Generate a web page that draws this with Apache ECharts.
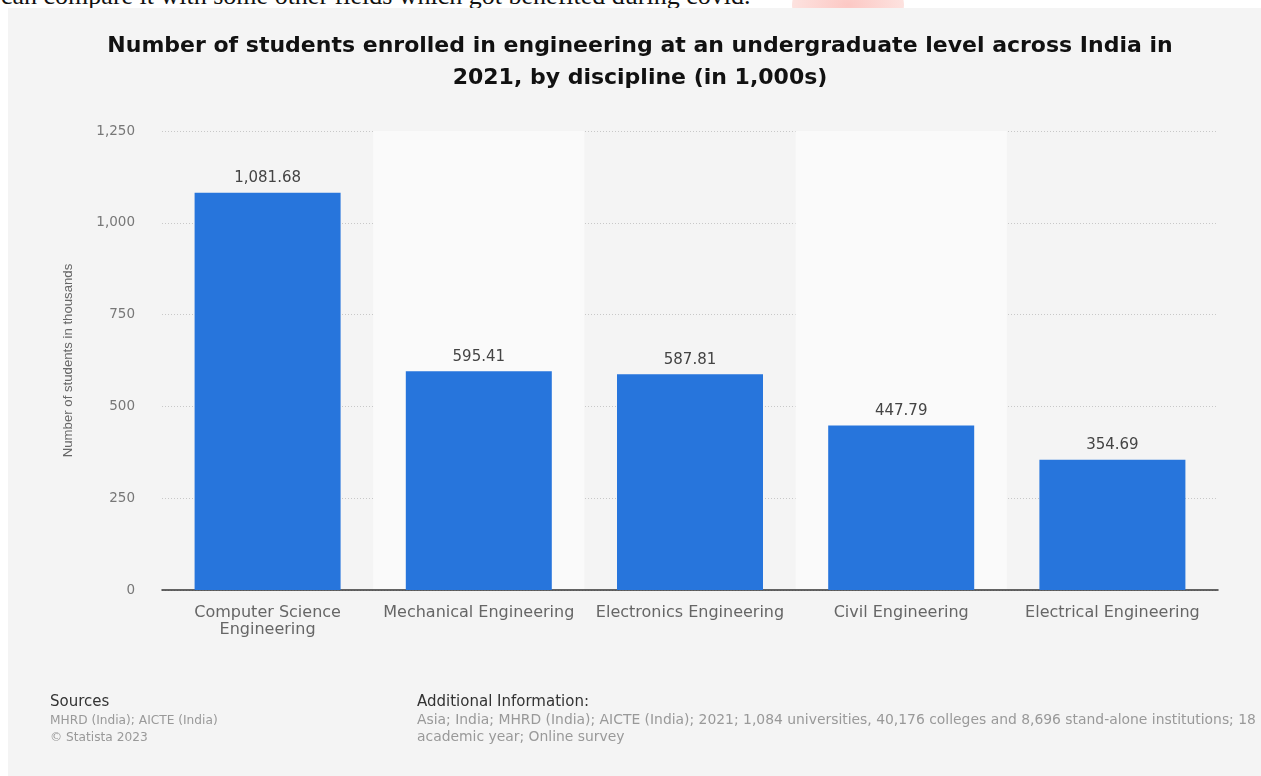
<!DOCTYPE html>
<html>
<head>
<meta charset="utf-8">
<script src="https://cdn.jsdelivr.net/npm/echarts@6/dist/echarts.min.js"></script>
<style>
  html, body { margin: 0; padding: 0; background: #ffffff; width: 1261px; height: 776px; overflow: hidden; position: relative; }
  #bodytext { position: absolute; left: 1px; top: -15px; font-family: "Liberation Serif", "DejaVu Serif", serif; font-size: 26px; line-height: 22px; color: #111; white-space: nowrap; z-index: 1; }
  #blob { position: absolute; left: 792px; top: -30px; width: 112px; height: 70px; border-radius: 50%; background: radial-gradient(ellipse at center, #fcc8c4 0%, #fde2df 70%, #ffffff 100%); z-index: 0; }
  #chart { position: absolute; left: 8px; top: 8px; width: 1253px; height: 768px; background: #f4f4f4; z-index: 2; }
</style>
</head>
<body>
<div id="bodytext">can compare it with some other fields which got benefited during covid.</div>
<div id="blob"></div>
<div id="chart"></div>
<script>
const categories = [
  "Computer Science\nEngineering",
  "Mechanical Engineering",
  "Electronics Engineering",
  "Civil Engineering",
  "Electrical Engineering"
];
const enrolledThousands = [1081.68, 595.41, 587.81, 447.79, 354.69];
const yTicks = [0, 250, 500, 750, 1000, 1250];

const titleText = "Number of students enrolled in engineering at an undergraduate level across India in\n2021, by discipline (in 1,000s)";
const yAxisName = "Number of students in thousands";
const sourcesHead = "Sources";
const sourcesLines = "MHRD (India); AICTE (India)\n\u00A9 Statista 2023";
const addHead = "Additional Information:";
const addLines = "Asia; India; MHRD (India); AICTE (India); 2021; 1,084 universities, 40,176 colleges and 8,696 stand-alone institutions; 18\nacademic year; Online survey";

function fmt(v, dec) {
  return Number(v).toLocaleString('en-US', { minimumFractionDigits: dec, maximumFractionDigits: dec });
}

const chart = echarts.init(document.getElementById('chart'), null, { renderer: 'canvas' });
const FONT = '"DejaVu Sans", "Liberation Sans", sans-serif';

chart.setOption({
  backgroundColor: '#f4f4f4',
  animation: false,
  title: {
    text: titleText,
    left: 627,
    textAlign: 'center',
    top: 17,
    textStyle: {
      fontFamily: FONT,
      fontWeight: 'bold',
      fontSize: 22,
      lineHeight: 32,
      color: '#111'
    }
  },
  grid: { left: 154, right: 43, top: 123, bottom: 186 },
  xAxis: {
    type: 'category',
    data: categories,
    axisLine: { show: true, lineStyle: { color: '#333', width: 1.5 } },
    axisTick: { show: false },
    splitArea: { show: true, areaStyle: { color: ['rgba(0,0,0,0)', '#fafafa'] } },
    axisLabel: {
      fontFamily: FONT,
      fontSize: 16,
      color: '#666',
      lineHeight: 17,
      margin: 14,
      interval: 0
    }
  },
  yAxis: {
    type: 'value',
    min: yTicks[0],
    max: yTicks[yTicks.length - 1],
    interval: yTicks[1] - yTicks[0],
    name: yAxisName,
    nameLocation: 'middle',
    nameGap: 87,
    nameTextStyle: { fontFamily: '"Liberation Sans Narrow", "Liberation Sans", sans-serif', fontSize: 13.2, color: '#666' },
    axisLine: { show: false },
    axisTick: { show: false },
    axisLabel: {
      fontFamily: FONT,
      fontSize: 13.5,
      color: '#777',
      margin: 27,
      formatter: v => fmt(v, 0)
    },
    splitLine: { show: true, lineStyle: { color: '#c8c8c8', type: [1, 2], width: 1 } }
  },
  series: [{
    type: 'bar',
    data: enrolledThousands,
    barWidth: 146,
    itemStyle: { color: '#2775dc' },
    label: {
      show: true,
      position: 'top',
      distance: 7,
      fontFamily: FONT,
      fontSize: 15,
      color: '#444',
      formatter: p => fmt(p.value, 2)
    }
  }],
  graphic: [
    { type: 'text', left: 42, top: 687, style: { text: sourcesHead, fontFamily: FONT, fontSize: 15, fill: '#333' } },
    { type: 'text', left: 42, top: 704, style: { text: sourcesLines, fontFamily: FONT, fontSize: 12.2, lineHeight: 17, fill: '#999' } },
    { type: 'text', left: 409, top: 687, style: { text: addHead, fontFamily: FONT, fontSize: 15, fill: '#333' } },
    { type: 'text', left: 409, top: 704, style: { text: addLines, fontFamily: FONT, fontSize: 13.9, lineHeight: 17, fill: '#999' } }
  ]
});
</script>
</body>
</html>
